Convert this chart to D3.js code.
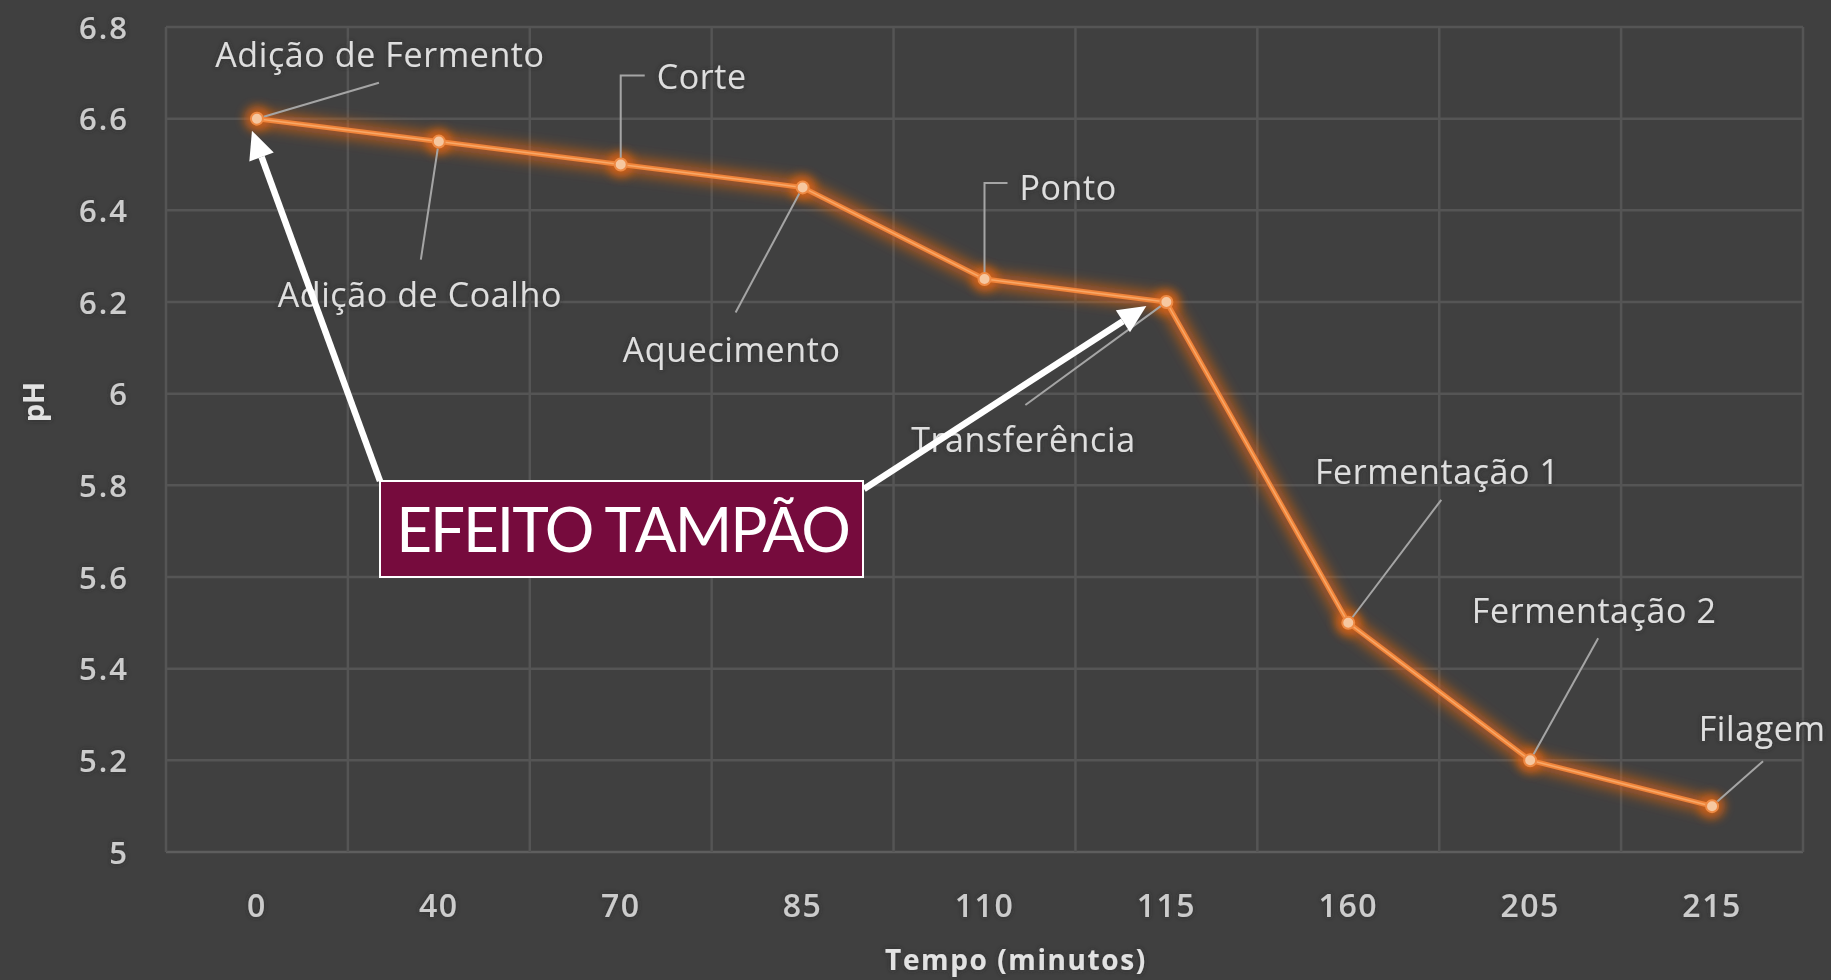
<!DOCTYPE html>
<html><head><meta charset="utf-8">
<script src="https://cdn.jsdelivr.net/npm/d3@7"></script>
<style>html,body{margin:0;padding:0;background:#404040;overflow:hidden}</style>
</head><body><svg id="c" width="1831" height="980"></svg>
<script>
// ---- data ----
const categories = ["0","40","70","85","110","115","160","205","215"];
const phValues = [6.6, 6.55, 6.5, 6.45, 6.25, 6.2, 5.5, 5.2, 5.1];
const stepLabels = ["Adição de Fermento","Adição de Coalho","Corte","Aquecimento","Ponto","Transferência","Fermentação 1","Fermentação 2","Filagem"];
const yTicks = [5, 5.2, 5.4, 5.6, 5.8, 6, 6.2, 6.4, 6.6, 6.8];
const xTitle = "Tempo (minutos)";
const yTitle = "pH";
const annotationText = "EFEITO TAMPÃO";

// ---- layout (pixels, not data) ----
const W = 1831, H = 980;
const plot = {left:166, right:1803, top:27, bottom:852};
// label offsets relative to the point: text (dx,dy), leader end (lx,ly)
const labelLayout = [
  {dx:123, dy:-64, lx:122, ly:-36, kind:"line", anchor:"middle"},
  {dx:-19, dy:153, lx:-18, ly:118, kind:"line", anchor:"middle"},
  {dx:36, dy:-88, lx:24, ly:-89, kind:"elbow", anchor:"start"},
  {dx:-71, dy:162, lx:-67, ly:125, kind:"line", anchor:"middle"},
  {dx:35, dy:-91, lx:23, ly:-96, kind:"elbow", anchor:"start"},
  {dx:-143, dy:138, lx:-141, ly:103, kind:"line", anchor:"middle"},
  {dx:89, dy:-151, lx:93, ly:-123, kind:"line", anchor:"middle"},
  {dx:64, dy:-150, lx:68, ly:-122, kind:"line", anchor:"middle"},
  {dx:50, dy:-77, lx:51, ly:-45, kind:"line", anchor:"middle"}
];

const svg = d3.select("#c");
svg.append("rect").attr("width",W).attr("height",H).attr("fill","#404040");

const defs = svg.append("defs");
const f = defs.append("filter").attr("id","glow").attr("x","-10%").attr("y","-10%").attr("width","120%").attr("height","120%");
f.append("feGaussianBlur").attr("stdDeviation",7);
const f2 = defs.append("filter").attr("id","mglow").attr("x","-100%").attr("y","-100%").attr("width","300%").attr("height","300%");
f2.append("feGaussianBlur").attr("stdDeviation",5);
const f3 = defs.append("filter").attr("id","tshadow").attr("x","-10%").attr("y","-30%").attr("width","120%").attr("height","160%");
f3.append("feGaussianBlur").attr("in","SourceAlpha").attr("stdDeviation",2.5).attr("result","b");
f3.append("feFlood").attr("flood-color","#2a2a2a").attr("flood-opacity",0.9);
f3.append("feComposite").attr("in2","b").attr("operator","in").attr("result","s");
const fm = f3.append("feMerge");
fm.append("feMergeNode").attr("in","s");
fm.append("feMergeNode").attr("in","SourceGraphic");

const x = d3.scaleBand().domain(categories).range([plot.left, plot.right]).padding(0);
const y = d3.scaleLinear().domain([5, 6.8]).range([plot.bottom, plot.top]);
const cx = c => x(c) + x.bandwidth()/2;

// grid
const grid = svg.append("g");
grid.selectAll("line.h").data(yTicks).join("line")
  .attr("x1",plot.left).attr("x2",plot.right)
  .attr("y1",d=>y(d)).attr("y2",d=>y(d))
  .attr("stroke", d=> d===5 ? "#5e5e5e" : "#555555").attr("stroke-width",2.5);
const bounds = categories.map(c=>x(c)).concat([plot.right]);
grid.selectAll("line.v").data(bounds).join("line")
  .attr("x1",d=>d).attr("x2",d=>d)
  .attr("y1",plot.top).attr("y2",plot.bottom)
  .attr("stroke","#555555").attr("stroke-width",2.5);

// axes
const xAxis = svg.append("g").attr("transform",`translate(0,${plot.bottom})`)
  .call(d3.axisBottom(x).tickSize(0));
xAxis.select(".domain").remove();
xAxis.selectAll("text").attr("y",53).attr("dy","0.36em")
  .attr("font-family","Open Sans").attr("font-weight",600).attr("font-size",32)
  .attr("letter-spacing",1.5).attr("fill","#cccccc").attr("filter","url(#tshadow)");

const yAxis = svg.append("g").attr("transform",`translate(${plot.left},0)`)
  .call(d3.axisLeft(y).tickValues(yTicks).tickSize(0).tickFormat(d=>String(d)));
yAxis.select(".domain").remove();
yAxis.selectAll("text").attr("x",-37).attr("dy","0.36em")
  .attr("font-family","Open Sans").attr("font-weight",600).attr("font-size",31)
  .attr("letter-spacing",2).attr("fill","#cccccc").attr("filter","url(#tshadow)");

// axis titles
svg.append("text").attr("x",1016).attr("y",960).attr("dy","0.36em").attr("text-anchor","middle")
  .attr("font-family","Open Sans").attr("font-weight",700).attr("font-size",28)
  .attr("letter-spacing",1.6).attr("fill","#e2e2e2").attr("filter","url(#tshadow)").text(xTitle);
svg.append("text").attr("transform","translate(34,402) rotate(-90)").attr("dy","0.36em").attr("text-anchor","middle")
  .attr("font-family","Open Sans").attr("font-weight",700).attr("font-size",29)
  .attr("fill","#e2e2e2").attr("filter","url(#tshadow)").text(yTitle);

// series
const pts = categories.map((c,i)=>({c, v:phValues[i], x:cx(c), y:y(phValues[i]), label:stepLabels[i], L:labelLayout[i]}));
const line = d3.line().x(d=>d.x).y(d=>d.y);
svg.append("path").datum(pts).attr("d",line).attr("fill","none")
  .attr("stroke","#e8660f").attr("stroke-width",14).attr("stroke-opacity",0.75)
  .attr("stroke-linejoin","round").attr("filter","url(#glow)");
svg.selectAll("circle.g").data(pts).join("circle")
  .attr("cx",d=>d.x).attr("cy",d=>d.y).attr("r",13).attr("fill","#e8660f").attr("opacity",0.7).attr("filter","url(#mglow)");

// leader lines
svg.selectAll("path.leader").data(pts).join("path")
  .attr("d",d=>{
    if(d.L.kind==="elbow") return `M${d.x},${d.y-6}V${d.y+d.L.ly}H${d.x+d.L.lx}`;
    const ang = Math.atan2(d.L.ly, d.L.lx);
    return `M${d.x+7*Math.cos(ang)},${d.y+7*Math.sin(ang)}L${d.x+d.L.lx},${d.y+d.L.ly}`;
  })
  .attr("fill","none").attr("stroke","#a5a5a5").attr("stroke-width",2);

svg.append("path").datum(pts).attr("d",line).attr("fill","none")
  .attr("stroke","#f0843a").attr("stroke-width",5).attr("stroke-linejoin","round");
svg.append("path").datum(pts).attr("d",line).attr("fill","none")
  .attr("stroke","#f7a868").attr("stroke-width",1.5).attr("stroke-linejoin","round");
svg.selectAll("circle.m").data(pts).join("circle")
  .attr("cx",d=>d.x).attr("cy",d=>d.y).attr("r",6)
  .attr("fill","#f6c7a0").attr("stroke","#ee8a45").attr("stroke-width",2);

// data labels
svg.selectAll("text.lbl").data(pts).join("text")
  .attr("x",d=>d.x+d.L.dx).attr("y",d=>d.y+d.L.dy).attr("dy","0.36em")
  .attr("text-anchor",d=>d.L.anchor)
  .attr("font-family","Open Sans").attr("font-size",34).attr("letter-spacing",0.6)
  .attr("fill","#dedede").attr("filter","url(#tshadow)")
  .text(d=>d.label);

// annotation: box + arrows
const box = {x:380, y:481, w:483, h:96};
function arrow(x1,y1,x2,y2){
  const ang = Math.atan2(y2-y1, x2-x1), len = 28, half = 13;
  const bx = x2 - len*Math.cos(ang), by = y2 - len*Math.sin(ang);
  svg.append("line").attr("x1",x1).attr("y1",y1).attr("x2",bx).attr("y2",by)
    .attr("stroke","#ffffff").attr("stroke-width",6.5);
  const px = -Math.sin(ang), py = Math.cos(ang);
  svg.append("polygon").attr("points",
    `${x2},${y2} ${bx+half*px},${by+half*py} ${bx-half*px},${by-half*py}`).attr("fill","#ffffff");
}
arrow(box.x, box.y, pts[0].x-5, pts[0].y+12);
arrow(box.x+box.w+1, box.y+8, pts[5].x-20, pts[5].y+4);
svg.append("rect").attr("x",box.x).attr("y",box.y).attr("width",box.w).attr("height",box.h)
  .attr("fill","#760b3d").attr("stroke","#ffffff").attr("stroke-width",2);
svg.append("text").attr("x",box.x+box.w/2+1).attr("y",552)
  .attr("text-anchor","middle").attr("font-family","Lato").attr("font-size",62)
  .attr("letter-spacing",-2).attr("fill","#ffffff").text(annotationText);
</script></body></html>
